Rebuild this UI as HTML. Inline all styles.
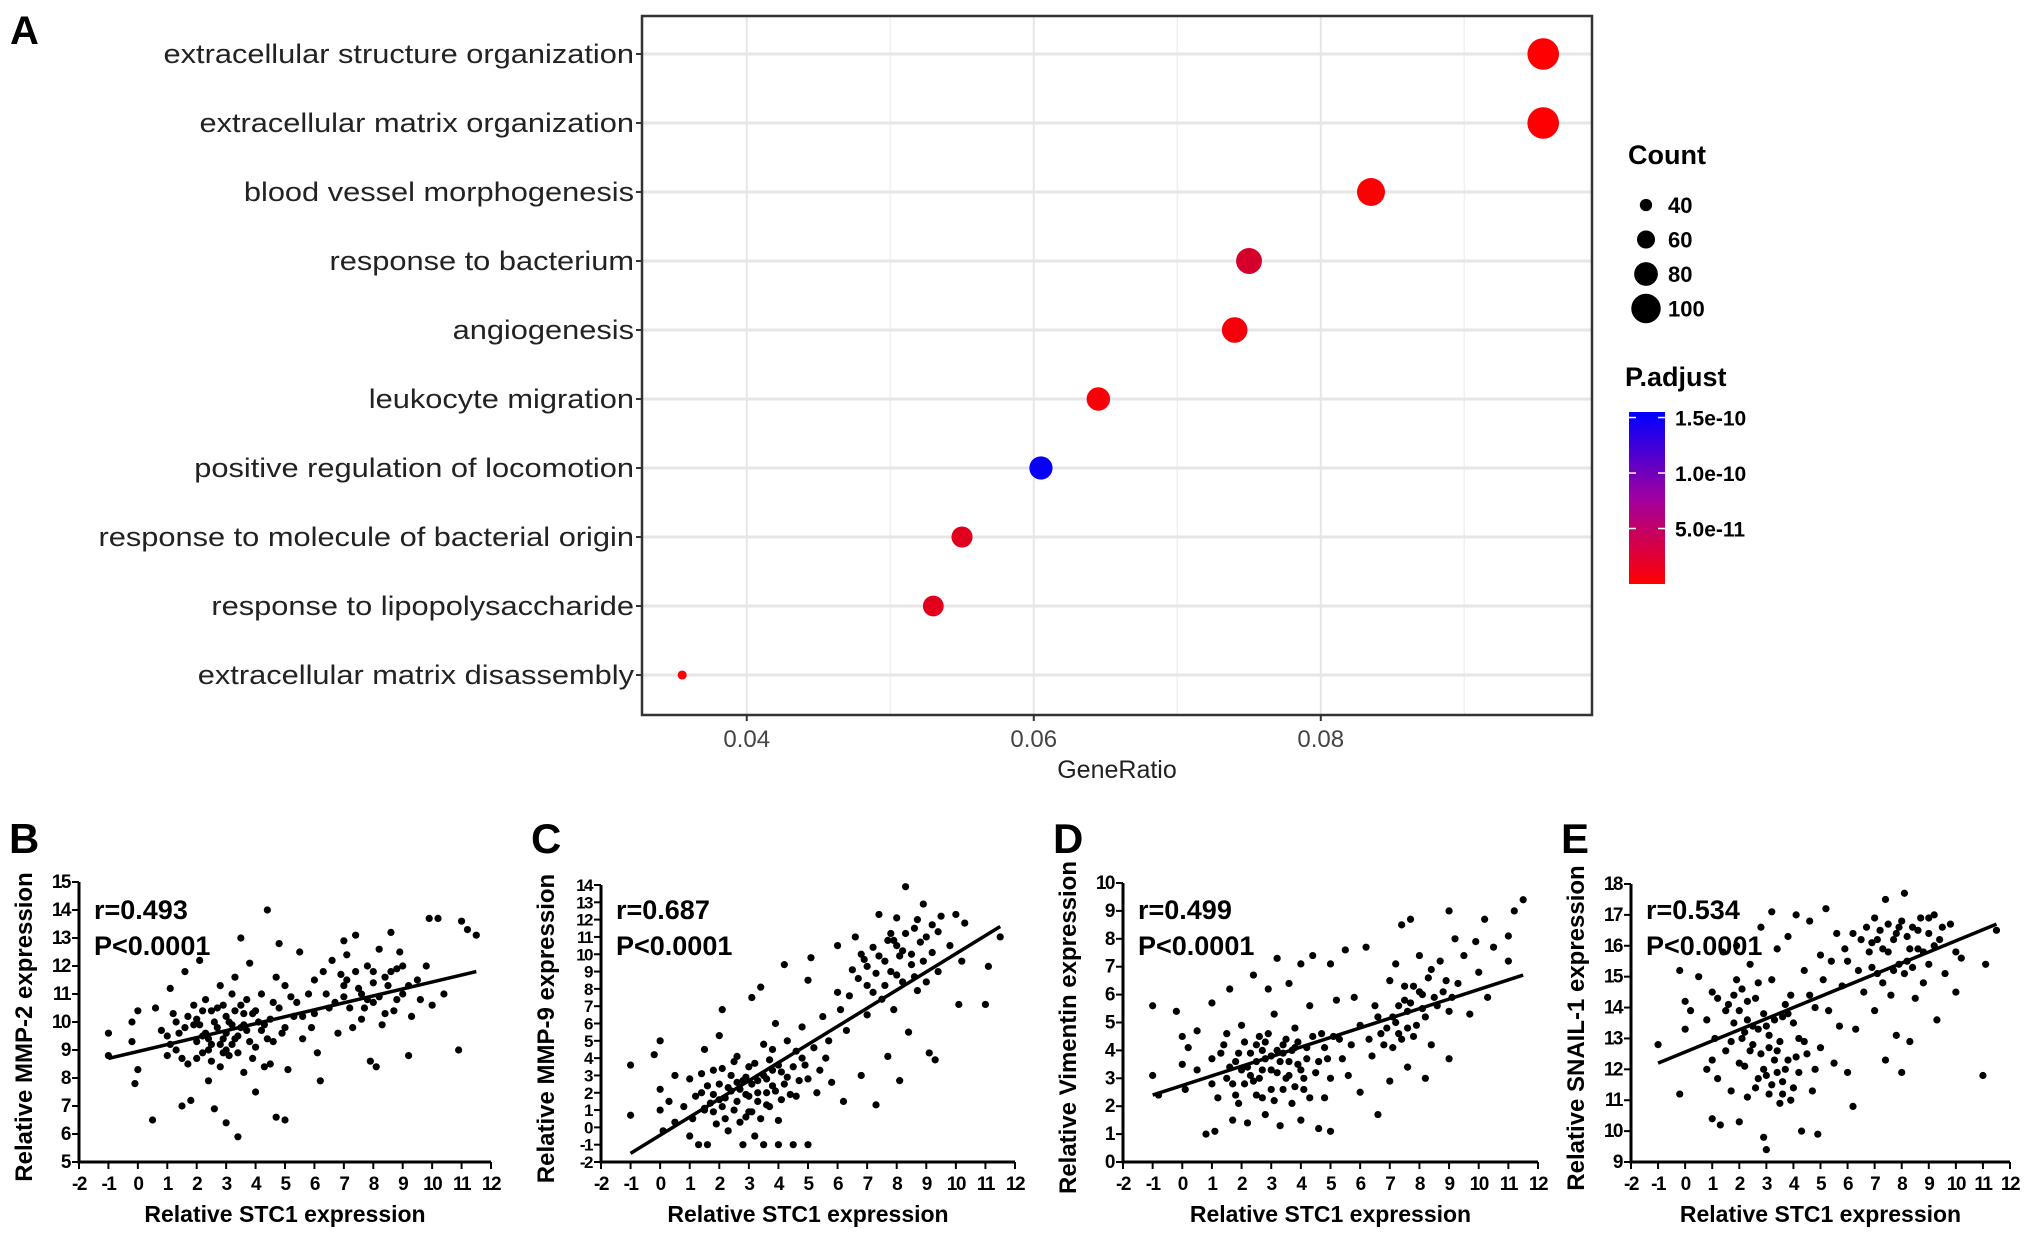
<!DOCTYPE html>
<html><head><meta charset="utf-8">
<style>
html,body{margin:0;padding:0;background:#fff;}
svg{display:block;}
text{font-family:"Liberation Sans",sans-serif;}
</style></head>
<body>
<svg id="fig" width="2031" height="1241" viewBox="0 0 2031 1241" xmlns="http://www.w3.org/2000/svg">
<text x="10" y="44" font-size="40" font-weight="bold">A</text>
<g id="panelA"></g>
<g id="legendA"></g>
<g id="scatters"></g>
</svg>
<script>
const NS="http://www.w3.org/2000/svg";
function mk(tag,attrs,parent,txt){const e=document.createElementNS(NS,tag);for(const k in attrs)e.setAttribute(k,attrs[k]);if(txt!==undefined)e.textContent=txt;parent.appendChild(e);return e;}

// ===== Panel A data =====
const goTerms=["extracellular structure organization","extracellular matrix organization","blood vessel morphogenesis","response to bacterium","angiogenesis","leukocyte migration","positive regulation of locomotion","response to molecule of bacterial origin","response to lipopolysaccharide","extracellular matrix disassembly"];
const geneRatio=[0.0955,0.0955,0.0835,0.075,0.074,0.0645,0.0605,0.055,0.053,0.0355];
const goCount=[102,102,90,83,82,75,74,67,66,27];
const goPadj=[5e-13,5e-13,2e-12,2.6e-11,6e-12,4e-12,1.5e-10,1.8e-11,1.7e-11,1e-12];
const ratioTicks=[0.04,0.06,0.08];
const ratioMinor=[0.05,0.07,0.09];
const sizeLegend=[40,60,80,100];
const padjTicks=[1.5e-10,1.0e-10,5.0e-11];
const padjTickLabels=["1.5e-10","1.0e-10","5.0e-11"];

const A={x0:642,x1:1592,y0:16,y1:715,dmin:0.0327,dmax:0.0989,rowTop:54,rowStep:69};
const ax=v=>A.x0+(v-A.dmin)/(A.dmax-A.dmin)*(A.x1-A.x0);
const ay=i=>A.rowTop+i*A.rowStep;
const rs=c=>6.5+(c-40)/60*9;
const PMAX=1.55e-10;
function pcol(p){const t=Math.max(0,Math.min(1,p/PMAX));const r=Math.round(255*(1-t)),g=0,b=Math.round(255*t);const m=Math.round(60*Math.sin(Math.PI*t)*0);return `rgb(${r},${g},${b+m})`;}

const gA=document.getElementById('panelA');
mk('rect',{x:A.x0,y:A.y0,width:A.x1-A.x0,height:A.y1-A.y0,fill:'#fff'},gA);
ratioMinor.forEach(v=>{const l=mk('line',{x1:ax(v),x2:ax(v),y1:A.y0,y2:A.y1,stroke:'#f0f0f0','stroke-width':1.5},gA);});
ratioTicks.forEach(v=>{const l=mk('line',{x1:ax(v),x2:ax(v),y1:A.y0,y2:A.y1,stroke:'#e6e6e6','stroke-width':2},gA);});
goTerms.forEach((t,i)=>{const l=mk('line',{x1:A.x0,x2:A.x1,y1:ay(i),y2:ay(i),stroke:'#e6e6e6','stroke-width':3},gA);});
mk('rect',{x:A.x0,y:A.y0,width:A.x1-A.x0,height:A.y1-A.y0,fill:'none',stroke:'#333','stroke-width':2.5},gA);
goTerms.forEach((t,i)=>{
  const lb=mk('text',{x:A.x0-8,y:ay(i)+9,'font-size':27,'text-anchor':'end',fill:'#222'},gA,t);
  
  
  const w=lb.getComputedTextLength();
  if(w>0){lb.setAttribute('textLength',w*1.14);lb.setAttribute('lengthAdjust','spacingAndGlyphs');}
  mk('line',{x1:A.x0-6,x2:A.x0,y1:ay(i),y2:ay(i),stroke:'#333','stroke-width':2},gA);
  const c=mk('circle',{cx:ax(geneRatio[i]),cy:ay(i),r:rs(goCount[i]),fill:pcol(goPadj[i])},gA);
  
  
});
ratioTicks.forEach(v=>{
  mk('line',{x1:ax(v),x2:ax(v),y1:A.y1,y2:A.y1+6,stroke:'#333','stroke-width':2},gA);
  const t=mk('text',{x:ax(v),y:A.y1+32,'font-size':24,'text-anchor':'middle',fill:'#444'},gA,v.toFixed(2));
  
  
});
const xt=mk('text',{x:(A.x0+A.x1)/2,y:778,'font-size':25,'text-anchor':'middle',fill:'#222'},gA,'GeneRatio');



// legend
const gL=document.getElementById('legendA');
const ct=mk('text',{x:1628,y:164,'font-size':27,'font-weight':'bold'},gL,'Count');


sizeLegend.forEach((c,i)=>{
  const y=205+i*34.5;
  const d=mk('circle',{cx:1646,cy:y,r:rs(c)*0.95,fill:'#000'},gL);
  
  
  const t=mk('text',{x:1668,y:y+8,'font-size':22,'font-weight':'bold'},gL,String(c));
  
  
});
const pt=mk('text',{x:1625,y:386,'font-size':27,'font-weight':'bold'},gL,'P.adjust');


const defs=mk('defs',{},gL);
const gr=mk('linearGradient',{id:'pg',x1:0,y1:0,x2:0,y2:1},defs);
mk('stop',{offset:'0','stop-color':'#0000ff'},gr);
mk('stop',{offset:'0.5','stop-color':'#a000a0'},gr);
mk('stop',{offset:'1','stop-color':'#ff0000'},gr);
const cb=mk('rect',{x:1629,y:412,width:36,height:172,fill:'url(#pg)'},gL);


const cbY=p=>584-(p/PMAX)*172;
padjTicks.forEach((p,i)=>{
  mk('line',{x1:1629,x2:1636,y1:cbY(p),y2:cbY(p),stroke:'#fff','stroke-width':1.5},gL);
  mk('line',{x1:1658,x2:1665,y1:cbY(p),y2:cbY(p),stroke:'#fff','stroke-width':1.5},gL);
  const t=mk('text',{x:1675,y:cbY(p)+8,'font-size':21,'font-weight':'bold'},gL,padjTickLabels[i]);
  
  
});

// ===== Scatter data =====
const xTicksSTC=[-2,-1,0,1,2,3,4,5,6,7,8,9,10,11,12];
const ptsB=[[-1,9.6],[-1,8.8],[-0.2,10],[-0.2,9.3],[-0.1,7.8],[0,8.3],[0,10.4],[0.5,6.5],[0.6,10.5],[0.8,9.7],[1,8.8],[1,9.5],[1.1,11.2],[1.2,10.3],[1.3,9],[1.5,7],[1.6,11.8],[1.6,9.8],[1.7,8.5],[1.8,7.2],[1.9,10.6],[2,9.3],[2,10.1],[2.1,12.2],[2.2,8.9],[2.3,9.6],[2.3,10.8],[2.4,7.9],[2.5,9.2],[2.5,10.4],[2.6,6.9],[2.7,9.8],[2.8,8.4],[2.8,11.3],[2.9,9.4],[3,10.2],[3,6.4],[3.1,8.8],[3.2,9.9],[3.3,11.6],[3.4,5.9],[3.4,9.5],[3.5,13],[3.5,10.6],[3.6,8.2],[3.7,9.7],[3.8,12.1],[3.9,10.3],[4,7.5],[4,9.1],[4.2,11],[4.3,9.9],[4.4,14],[4.5,8.5],[4.6,10.7],[4.7,6.6],[4.8,12.8],[4.9,9.6],[5,6.5],[5,11.3],[5.1,8.3],[5.3,10.2],[5.5,12.5],[5.6,9.4],[5.8,11],[6,10.3],[6.1,8.9],[6.2,7.9],[6.3,11.8],[6.5,10.5],[6.6,12.2],[6.8,9.6],[7,12.9],[7,10.9],[7.1,11.5],[7.3,9.8],[7.4,13.1],[7.5,11.2],[7.6,10.1],[7.8,12],[7.9,8.6],[8,10.7],[8,11.8],[8.1,8.4],[8.2,12.6],[8.3,9.9],[8.5,11.3],[8.6,13.2],[8.7,10.4],[8.8,11.9],[9,11],[9.2,8.8],[9.3,10.2],[9.5,11.5],[9.8,12],[9.9,13.7],[10,10.6],[10.2,13.7],[10.4,11],[10.9,9],[11,13.6],[11.2,13.3],[11.5,13.1],[3.2,9.2],[2.7,10.5],[3.6,9.9],[2.2,9.5],[4.1,10],[1.4,9.6],[3.0,9.6],[2.4,9.0],[3.3,10.4],[1.9,9.9],[2.9,8.9],[3.7,10.8],[4.4,9.4],[5.4,10.7],[6.9,11.7],[7.7,10.5],[8.4,11.6],
[1.1,9.2],[1.5,8.7],[1.7,10.2],[2.1,9.9],[2.2,10.4],[2.4,9.4],[2.5,8.6],[2.6,10.0],[2.8,9.2],[2.9,10.6],[3.0,9.0],[3.1,10.0],[3.3,9.4],[3.4,8.9],[3.5,9.8],[3.6,10.3],[3.8,9.3],[3.9,8.7],[4.0,10.4],[4.2,9.7],[4.3,8.4],[4.5,10.1],[4.6,9.3],[4.8,10.5],[5.0,9.8],[5.2,10.9],[5.6,10.2],[5.9,9.8],[6.4,11.0],[6.7,10.7],[7.0,11.3],[7.2,10.5],[7.4,11.8],[7.6,11.0],[7.8,10.8],[8.0,11.4],[8.2,10.9],[8.4,10.3],[8.6,11.8],[8.8,10.8],[9.0,12.0],[9.2,11.3],[2.0,8.7],[1.3,10.0],[3.2,11.0],[4.7,11.6],[6.0,11.5],[7.1,12.4],[8.9,12.5],[9.6,10.8]];
const ptsC=[[-1,3.6],[-1,0.7],[-0.2,4.2],[0,5],[0,2.2],[0,1],[0.1,-0.2],[0.3,1.5],[0.5,3],[0.8,1.2],[1,2.8],[1.1,0.5],[1.3,-1],[1.4,2],[1.5,4.5],[1.6,-1],[1.7,1.4],[1.8,3.3],[1.9,0.2],[2,2.5],[2,5.3],[2.1,6.8],[2.2,1.7],[2.3,-0.2],[2.4,3],[2.5,1],[2.6,4.1],[2.7,2.2],[2.8,-1],[2.9,0.6],[3,3.5],[3,1.8],[3.1,7.5],[3.2,-0.5],[3.3,2.7],[3.4,8.1],[3.5,-1],[3.5,4.8],[3.6,1.3],[3.7,3.9],[3.8,2.4],[3.9,6],[4,-1],[4,0.4],[4.1,3.2],[4.2,9.4],[4.3,5],[4.4,1.9],[4.5,-1],[4.6,4.4],[4.7,2.7],[4.8,5.8],[4.9,3.6],[5,-1],[5,8.5],[5.1,9.8],[5.3,2],[5.5,6.4],[5.6,4],[5.8,2.6],[6,10.5],[6,7.8],[6.2,1.5],[6.3,5.6],[6.5,9.1],[6.6,11],[6.8,3],[7,8.2],[7,6.5],[7.2,10.4],[7.3,1.3],[7.4,12.3],[7.5,7.4],[7.6,9.6],[7.7,4.1],[7.8,11.2],[7.9,6.8],[8,8.8],[8,12.1],[8.1,2.7],[8.2,10.2],[8.3,13.9],[8.4,5.5],[8.5,9.4],[8.6,11.5],[8.7,7.9],[8.8,10.7],[8.9,12.9],[9,8.4],[9.1,4.3],[9.2,10.1],[9.3,3.9],[9.4,11.3],[9.5,12.2],[9.8,10.5],[10,12.3],[10.1,7.1],[10.2,9.6],[10.3,11.8],[11,7.1],[11.1,9.3],[11.5,11],[2.4,2.1],[3.3,1.5],[1.8,1.9],[2.9,2.9],[3.8,3.3],[2.1,1.2],[3.6,2.0],[2.6,2.6],[3.1,0.9],[4.2,2.5],[1.5,1.1],[7.3,8.9],[8.1,9.9],[6.9,9.7],[7.9,10.8],
[1.2,1.8],[1.4,3.1],[1.6,2.4],[1.8,0.9],[2.0,1.6],[2.1,3.4],[2.3,2.3],[2.5,3.8],[2.6,1.5],[2.7,0.3],[2.8,2.7],[2.9,1.9],[3.0,0.9],[3.1,2.5],[3.2,3.7],[3.3,2.0],[3.4,0.5],[3.5,3.0],[3.6,2.8],[3.7,1.2],[3.8,4.5],[3.9,2.1],[4.0,3.6],[4.1,1.6],[4.3,2.9],[4.5,3.5],[4.6,1.8],[4.8,4.0],[5.0,2.8],[5.2,4.6],[5.4,3.3],[5.7,5.0],[6.1,6.8],[6.4,7.6],[6.7,8.6],[6.8,10.0],[7.0,9.3],[7.2,7.8],[7.4,9.9],[7.6,8.2],[7.7,10.8],[7.8,9.0],[8.0,10.5],[8.2,8.4],[8.3,11.2],[8.5,10.0],[8.6,8.7],[8.7,12.0],[8.9,9.6],[9.0,11.0],[9.2,11.7],[9.4,9.0],[1.0,-0.5],[0.5,0.3],[1.5,1.0],[2.2,0.5]];
const ptsD=[[-1,3.1],[-1,5.6],[-0.8,2.4],[-0.2,5.4],[0,4.5],[0,3.5],[0.1,2.6],[0.5,4.7],[0.8,1],[1,5.7],[1,3.7],[1.1,1.1],[1.2,2.3],[1.4,4.2],[1.5,3],[1.6,6.2],[1.7,1.5],[1.8,3.6],[1.9,2.1],[2,4.9],[2.1,2.8],[2.2,1.4],[2.3,3.9],[2.4,6.7],[2.5,2.4],[2.6,4.5],[2.7,3.3],[2.8,1.7],[2.9,6.2],[3,3.8],[3,2.6],[3.1,5.3],[3.2,7.3],[3.3,1.3],[3.4,4.2],[3.5,3],[3.6,6.4],[3.7,2.1],[3.8,4.8],[3.9,3.5],[4,7.1],[4,1.5],[4.1,2.6],[4.2,4.1],[4.3,5.6],[4.4,7.4],[4.5,3.2],[4.6,1.2],[4.7,4.6],[4.8,2.3],[4.9,3.7],[5,7.1],[5,1.1],[5.2,5.8],[5.3,4.4],[5.5,7.6],[5.6,3.1],[5.8,5.9],[6,2.5],[6,4.9],[6.2,7.7],[6.4,3.8],[6.5,5.6],[6.6,1.7],[6.8,4.2],[7,6.5],[7,2.9],[7.1,5.2],[7.2,7.1],[7.3,4.6],[7.4,8.5],[7.5,5.8],[7.6,3.4],[7.7,8.7],[7.8,6.3],[7.9,4.9],[8,7.4],[8.1,5.5],[8.2,3],[8.3,6.6],[8.4,4.2],[8.5,5.9],[8.7,7.2],[8.8,6.1],[9,5.4],[9,9],[9,3.7],[9.2,8],[9.3,6.4],[9.5,7.4],[9.7,5.3],[9.9,7.9],[10,6.8],[10.2,8.7],[10.3,5.9],[10.5,7.7],[11,8.1],[11,7.2],[11.2,9],[11.5,9.4],[2.5,3.6],[3.4,3.9],[2.0,3.3],[3.8,4.1],[2.8,4.3],[3.2,3.2],[2.3,3.1],[2.7,4.0],[3.6,3.6],[1.6,3.4],[4.1,3.0],[7.2,5.0],[7.6,5.4],[8.1,6.0],[6.7,4.6],
[1.3,3.9],[1.5,4.6],[1.7,2.8],[1.9,3.9],[2.1,4.3],[2.2,3.4],[2.4,2.9],[2.5,4.2],[2.6,3.0],[2.7,2.3],[2.8,3.7],[2.9,4.6],[3.0,3.3],[3.1,2.2],[3.2,4.0],[3.3,3.6],[3.4,2.6],[3.5,4.4],[3.6,3.1],[3.7,4.0],[3.8,2.7],[3.9,4.3],[4.0,3.3],[4.2,3.7],[4.3,2.3],[4.4,4.5],[4.6,3.6],[4.8,4.1],[5.0,3.0],[5.1,4.5],[5.4,3.7],[5.7,4.2],[6.3,4.4],[6.6,5.2],[6.9,4.8],[7.1,4.1],[7.3,5.6],[7.4,4.4],[7.5,6.3],[7.6,4.8],[7.7,5.7],[7.8,4.5],[8.0,6.1],[8.2,5.2],[8.4,6.9],[8.6,5.6],[8.9,6.5],[9.1,5.9],[0.5,3.3],[0.2,4.1],[1.0,2.8],[1.8,2.4]];
const ptsE=[[-1,12.8],[-0.2,11.2],[-0.2,15.2],[0,14.2],[0,13.3],[0.2,13.9],[0.5,15],[0.8,12],[1,10.4],[1,14.5],[1.1,13],[1.2,11.7],[1.3,10.2],[1.4,15.8],[1.5,12.6],[1.6,14.1],[1.7,11.3],[1.8,13.5],[1.9,16],[2,10.3],[2,12.2],[2.1,14.6],[2.2,13.2],[2.3,11.1],[2.4,15.4],[2.5,12.8],[2.6,14.3],[2.7,11.7],[2.8,16.6],[2.9,9.8],[3,13.4],[3,9.4],[3.1,11.2],[3.2,14.9],[3.2,17.1],[3.3,12.3],[3.4,15.9],[3.5,10.9],[3.6,13.7],[3.7,12],[3.8,16.3],[3.9,14.4],[4,11.4],[4.1,17],[4.2,13],[4.3,10],[4.4,15.2],[4.5,12.5],[4.6,16.8],[4.7,11.3],[4.8,14],[4.9,9.9],[5,12.7],[5,15.7],[5.2,17.2],[5.3,13.9],[5.5,12.2],[5.6,16.4],[5.8,14.7],[6,11.9],[6,15.5],[6.2,10.8],[6.3,13.3],[6.5,16.2],[6.6,14.5],[6.8,15.8],[7,16.9],[7,13.9],[7.1,15.1],[7.2,16.5],[7.4,12.3],[7.4,17.5],[7.5,15.8],[7.6,14.4],[7.7,16.2],[7.8,13.1],[7.9,15.4],[8,16.8],[8,11.9],[8.1,17.7],[8.2,15.5],[8.3,12.9],[8.4,16.6],[8.5,14.3],[8.6,15.9],[8.7,16.9],[8.8,14.8],[9,16.4],[9,15.4],[9.2,17],[9.3,13.6],[9.4,16.2],[9.6,15.1],[9.8,16.7],[10,15.8],[10,14.5],[10.2,15.6],[11,11.8],[11.1,15.4],[11.5,16.5],[2.3,13.6],[3.1,13.1],[2.0,13.9],[3.4,12.6],[2.7,13.3],[1.8,14.4],[3.8,13.8],
[2.9,12.0],[3.6,11.6],[2.4,12.6],[4.1,12.4],[7.3,15.9],[7.8,16.4],[8.3,15.9],[6.9,16.1],
[1.5,13.9],[1.7,12.9],[1.9,14.9],[2.1,13.0],[2.2,12.1],[2.3,14.2],[2.5,13.4],[2.6,11.4],[2.7,14.8],[2.8,12.5],[2.9,13.8],[3.0,11.8],[3.1,12.7],[3.2,11.5],[3.3,13.6],[3.4,11.9],[3.5,12.9],[3.6,11.2],[3.7,14.1],[3.8,12.3],[3.9,11.0],[4.0,13.5],[4.2,11.9],[4.4,12.9],[4.6,14.4],[4.8,12.0],[5.1,14.9],[5.4,15.5],[5.9,15.9],[6.2,16.4],[6.4,15.2],[6.7,16.6],[6.9,15.3],[7.1,16.2],[7.3,14.8],[7.5,16.7],[7.7,15.2],[7.9,16.6],[8.1,15.1],[8.2,16.3],[8.4,15.3],[8.6,16.5],[8.8,15.8],[9.0,16.9],[9.2,16.0],[9.5,16.6],[1.2,14.3],[0.8,13.6],[1.0,12.3],[5.7,13.4]];
const fitB=[8.7,11.8], fitC=[-1.5,11.6], fitD=[2.4,6.7], fitE=[12.2,16.7];
const fitX=[-1,11.5];
const yTicksB=[5,6,7,8,9,10,11,12,13,14,15];
const yTicksC=[-2,-1,0,1,2,3,4,5,6,7,8,9,10,11,12,13,14];
const yTicksD=[0,1,2,3,4,5,6,7,8,9,10];
const yTicksE=[9,10,11,12,13,14,15,16,17,18];

const panels=[
 {letter:'B',ax:79,x12:491,yTop:882,yBot:1162,ticks:yTicksB,pts:ptsB,fit:fitB,r:'r=0.493',yl:'Relative MMP-2 expression'},
 {letter:'C',ax:601,x12:1015,yTop:885,yBot:1162,ticks:yTicksC,pts:ptsC,fit:fitC,r:'r=0.687',yl:'Relative MMP-9 expression'},
 {letter:'D',ax:1123,x12:1538,yTop:883,yBot:1162,ticks:yTicksD,pts:ptsD,fit:fitD,r:'r=0.499',yl:'Relative Vimentin expression'},
 {letter:'E',ax:1631,x12:2010,yTop:884,yBot:1162,ticks:yTicksE,pts:ptsE,fit:fitE,r:'r=0.534',yl:'Relative SNAIL-1 expression'}
];
const gS=document.getElementById('scatters');
panels.forEach(p=>{
  const g=mk('g',{},gS);
  
  
  const ymin=p.ticks[0],ymax=p.ticks[p.ticks.length-1];
  const sx=v=>p.ax+(v+2)/14*(p.x12-p.ax);
  const sy=v=>p.yBot-(v-ymin)/(ymax-ymin)*(p.yBot-p.yTop);
  const L=mk('text',{x:p.ax-70,y:853,'font-size':42,'font-weight':'bold'},g,p.letter);
  
  
  mk('line',{x1:p.ax,x2:p.ax,y1:p.yTop,y2:p.yBot+1.5,stroke:'#000','stroke-width':3},g);
  mk('line',{x1:p.ax-1.5,x2:p.x12,y1:p.yBot,y2:p.yBot,stroke:'#000','stroke-width':3},g);
  const fs=p.ticks.length>14?17:19;
  p.ticks.forEach(v=>{
    mk('line',{x1:p.ax-7,x2:p.ax,y1:sy(v),y2:sy(v),stroke:'#000','stroke-width':2},g);
    const t=mk('text',{x:p.ax-9,y:sy(v)+6,'font-size':fs,'font-weight':'bold','text-anchor':'end','letter-spacing':'-1.5'},g,String(v));
    
    
  });
  xTicksSTC.forEach(v=>{
    mk('line',{x1:sx(v),x2:sx(v),y1:p.yBot,y2:p.yBot+7,stroke:'#000','stroke-width':2},g);
    const t=mk('text',{x:sx(v),y:p.yBot+28,'font-size':19,'font-weight':'bold','text-anchor':'middle','letter-spacing':'-1.5'},g,String(v));
    
    
  });
  const xl=mk('text',{x:(p.ax+p.x12)/2,y:1222,'font-size':23,'font-weight':'bold','text-anchor':'middle'},g,'Relative STC1 expression');
  
  
  const cy=(p.yTop+p.yBot)/2+5;
  const yl=mk('text',{x:p.ax-47,y:cy,'font-size':24,'font-weight':'bold','text-anchor':'middle',transform:`rotate(-90 ${p.ax-47} ${cy})`},g,p.yl);
  
  
  p.pts.forEach(q=>{
    const c=mk('circle',{cx:sx(q[0]),cy:sy(q[1]),r:3.6,fill:'#000'},g);
    
    
  });
  const fl=mk('line',{x1:sx(fitX[0]),y1:sy(p.fit[0]),x2:sx(fitX[1]),y2:sy(p.fit[1]),stroke:'#000','stroke-width':3.5},g);
  
  
  const rt=mk('text',{x:p.ax+15,y:919,'font-size':27,'font-weight':'bold'},g,p.r);
  
  
  const pv=mk('text',{x:p.ax+15,y:955,'font-size':27,'font-weight':'bold'},g,'P<0.0001');
  
  
});
</script>
</body></html>
